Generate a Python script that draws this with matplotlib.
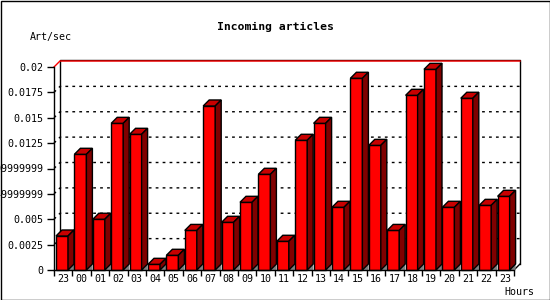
import numpy as np
import matplotlib
matplotlib.use("Agg")
from matplotlib import pyplot as plt
from matplotlib.patches import Rectangle

# data
hours = ["23", "00", "01", "02", "03", "04", "05", "06", "07", "08", "09", "10",
         "11", "12", "13", "14", "15", "16", "17", "18", "19", "20", "21", "22", "23"]
art_per_sec = [0.00335, 0.0114, 0.0050, 0.01445, 0.01337, 0.00056, 0.00145, 0.0039,
               0.01616, 0.0047, 0.00667, 0.00943, 0.00283, 0.01278, 0.01445, 0.00618,
               0.01889, 0.01228, 0.0039, 0.01721, 0.01977, 0.00618, 0.01692, 0.00637,
               0.00726]
ytick_vals = [0, 0.0025, 0.005, 0.0075, 0.01, 0.0125, 0.015, 0.0175, 0.02]
ytick_labels = ["0", "0.0025", "0.005", "0.00749999999", "0.00999999999",
                "0.0125", "0.015", "0.0175", "0.02"]

W, H, DPI = 550, 300, 100
fig = plt.figure(figsize=(W / DPI, H / DPI), dpi=DPI)
fig.patch.set_facecolor("white")

# front plot area in pixels
x0, x1, y0, y1 = 54, 514, 270, 67
ax = fig.add_axes([x0 / W, (H - y0) / H, (x1 - x0) / W, (y0 - y1) / H])
ax.set_xlim(0, len(hours))
ax.set_ylim(0, 0.02)
ax.set_facecolor("none")
for s in ax.spines.values():
    s.set_visible(False)

# 3d depth (6 px) in data units
px_x = len(hours) / (x1 - x0)
px_y = 0.02 / (y0 - y1)
dx, dy = 6 * px_x, 6 * px_y
n = len(hours)

# back wall frame
ax.plot([dx, dx, n + dx, n + dx], [dy, 0.02 + dy + px_y, 0.02 + dy + px_y, dy],
        color="black", lw=1, clip_on=False, zorder=1)
ax.plot([n, n + dx], [0, dy], color="black", lw=1, clip_on=False, zorder=1)

# grid lines on back wall
mono = "DejaVu Sans Mono"
for v in ytick_vals[1:-1]:
    ax.plot([0, dx, n + dx], [v, v + dy, v + dy], color="black", lw=1,
            ls=(0, (2, 3)), clip_on=False, zorder=1)
ax.plot([0, dx, n + dx], [0.02, 0.02 + dy, 0.02 + dy], color="red", lw=1,
        clip_on=False, zorder=1)

# bars
bw = 12 * px_x
for i, v in enumerate(art_per_sec):
    l = i + 2 * px_x
    r = l + bw
    ax.fill([r, r + dx, r + dx], [0, dy, 0], color="#808080", lw=0,
            clip_on=False, zorder=2)
    ax.fill([l, r, r, l], [0, 0, v, v], facecolor="#ff0000", edgecolor="black",
            lw=1, clip_on=False, zorder=3)
    ax.fill([l, l + dx, r + dx, r], [v, v + dy, v + dy, v], facecolor="#c80000",
            edgecolor="black", lw=1, clip_on=False, zorder=3)
    ax.fill([r, r + dx, r + dx, r], [0, dy, v + dy, v], facecolor="#800000",
            edgecolor="black", lw=1, clip_on=False, zorder=3)

# axes lines
ax.plot([0, 0], [0, 0.02], color="black", lw=1, clip_on=False, zorder=4)
ax.plot([0, n], [0, 0], color="black", lw=1, clip_on=False, zorder=4)

ax.set_yticks(ytick_vals)
ax.set_yticklabels(ytick_labels, family=mono, fontsize=7.2)
ax.tick_params(axis="y", length=5, width=1, pad=3, direction="out")
ax.set_xticks(np.arange(n + 1))
ax.set_xticklabels([])
ax.tick_params(axis="x", which="major", length=4, width=1, direction="out")
ax.set_xticks(np.arange(n) + 0.5, minor=True)
ax.set_xticklabels(hours, minor=True, family=mono, fontsize=7.2)
ax.tick_params(axis="x", which="minor", length=0, pad=3)

fig.text(275 / W, 1 - 27 / H, "Incoming articles", ha="center", va="center",
         family=mono, fontweight="bold", fontsize=8.2)
fig.text(30 / W, 1 - 37 / H, "Art/sec", ha="left", va="center", family=mono,
         fontsize=7.2)
fig.text(534 / W, 1 - 292 / H, "Hours", ha="right", va="center", family=mono,
         fontsize=7.2)

fig.patches.append(Rectangle((0.5 / W, 0.5 / H), 1 - 1 / W, 1 - 1 / H,
                             transform=fig.transFigure, fill=False,
                             edgecolor="black", lw=1))

fig.savefig("out.png", dpi=DPI, facecolor="white")
